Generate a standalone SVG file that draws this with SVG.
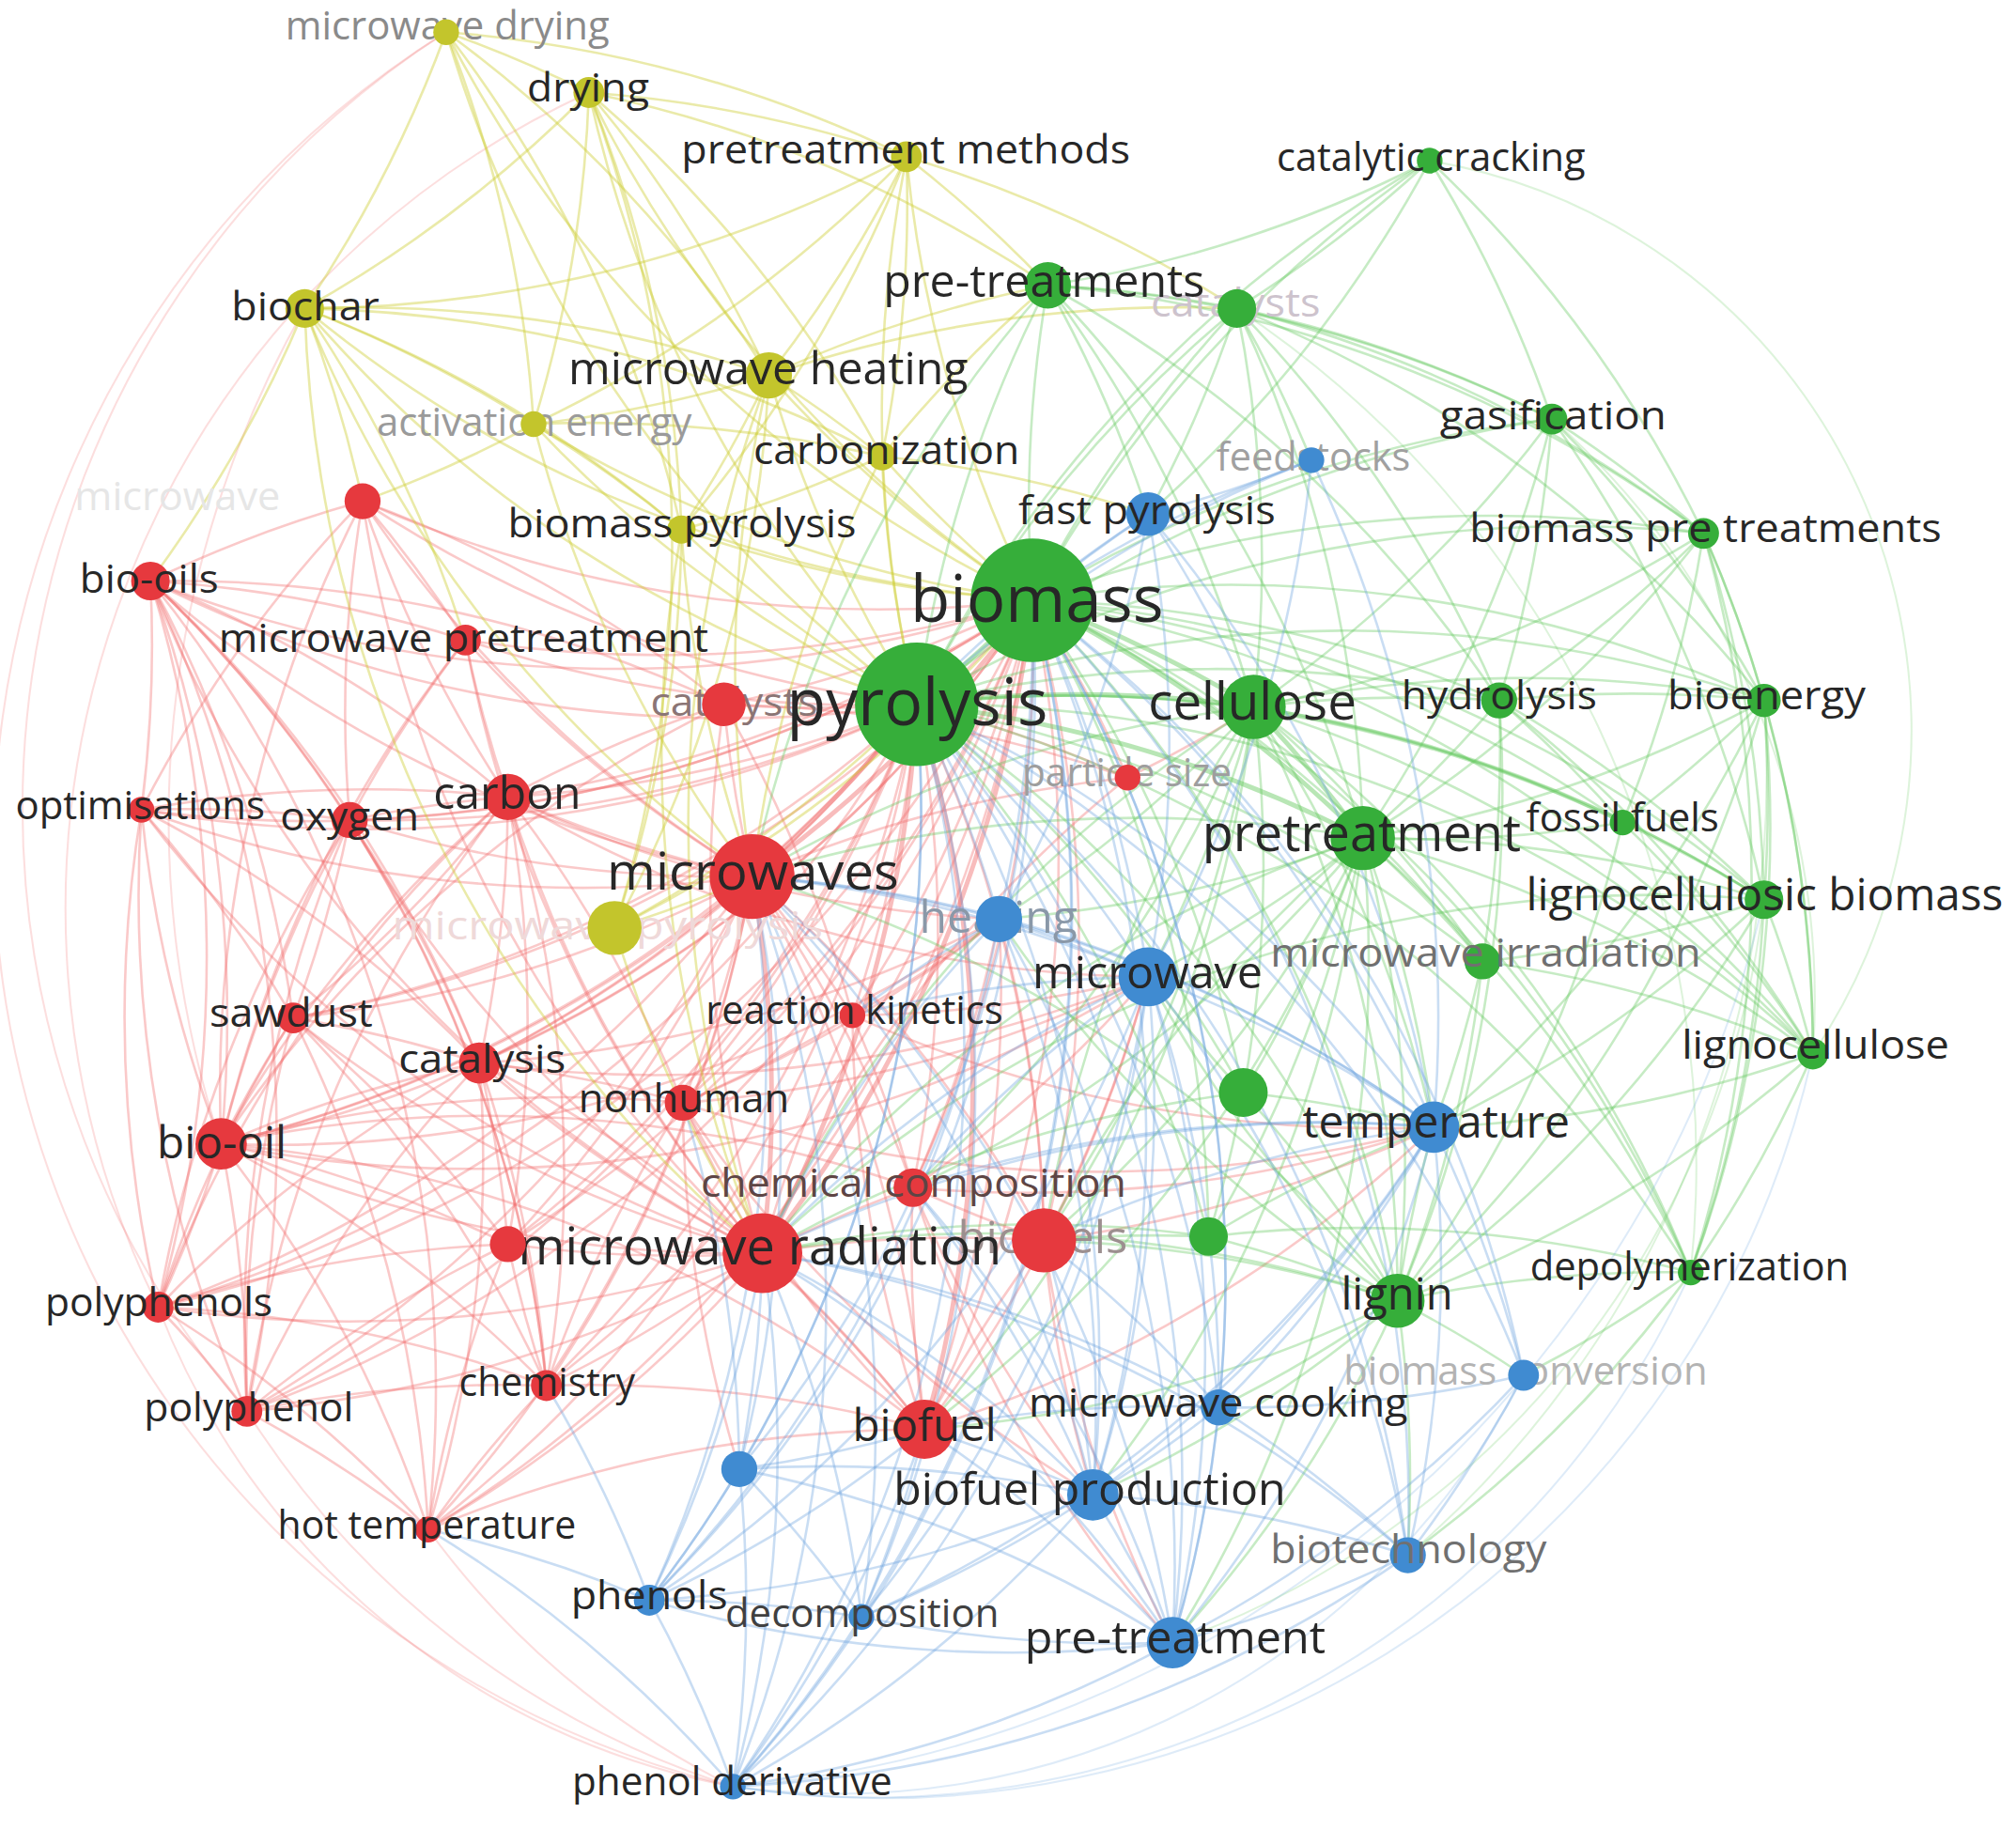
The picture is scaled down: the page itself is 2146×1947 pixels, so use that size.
<svg xmlns="http://www.w3.org/2000/svg" width="2146" height="1947" viewBox="0 0 2146 1947">
<style>
.e path{fill:none;stroke-width:1.9;stroke-linecap:round}
.r path{stroke:#f06a6a;stroke-opacity:.36}
.g path{stroke:#62c75b;stroke-opacity:.36}
.b path{stroke:#68a2de;stroke-opacity:.36}
.y path{stroke:#cccd33;stroke-opacity:.42}
.o path{stroke-opacity:.22;stroke-width:1.5}
.t path{stroke-width:3.6;stroke-opacity:.45}
text{font-family:"Open Sans","Liberation Sans",sans-serif;fill:#272727}
.s{font-size:31px}.m{font-size:35px}.l{font-size:40px}.h{font-size:51px}
.cr{fill:#e6393e}.cg{fill:#36ae3a}.cb{fill:#408bd1}.cy{fill:#c3c52c}
</style>
<rect width="2146" height="1947" fill="#ffffff"/>
<g transform="scale(1.36862 1.36824)">
<g id="connectors">
<g class="e r">
<path d="M803 467A1e3 1e3 0 0 1 282 390"/><path d="M803 467A1e3 1e3 0 0 1 117 452"/><path d="M803 467A1e3 1e3 0 0 1 362 498"/><path d="M803 467A1e3 1e3 0 0 1 563 548"/><path d="M803 467A1e3 1e3 0 0 1 110 630"/><path d="M803 467A1e3 1e3 0 0 1 272 638"/><path d="M803 467A1e3 1e3 0 0 1 395 620"/><path d="M803 467A1e3 1e3 0 0 1 877 605"/><path d="M803 467A1e3 1e3 0 0 1 663 790"/><path d="M803 467A1e3 1e3 0 0 1 228 792"/><path d="M803 467A1e3 1e3 0 0 1 373 827"/><path d="M803 467A1e3 1e3 0 0 1 531 858"/><path d="M803 467A1e3 1e3 0 0 1 172 890"/><path d="M803 467A1e3 1e3 0 0 1 710 924"/><path d="M803 467A1e3 1e3 0 0 1 395 968"/><path d="M803 467A1e3 1e3 0 0 1 812 965"/><path d="M803 467A1e3 1e3 0 0 1 123 1017"/><path d="M803 467A1e3 1e3 0 0 1 425 1078"/><path d="M803 467A1e3 1e3 0 0 1 192 1098"/><path d="M803 467A1e3 1e3 0 0 1 719 1112"/><path d="M803 467A1e3 1e3 0 0 1 333 1190"/>
<path d="M713 548A1e3 1e3 0 0 1 282 390"/><path d="M713 548A1e3 1e3 0 0 1 117 452"/><path d="M713 548A1e3 1e3 0 0 1 362 498"/><path d="M713 548A1e3 1e3 0 0 1 563 548"/><path d="M713 548A1e3 1e3 0 0 1 110 630"/><path d="M713 548A1e3 1e3 0 0 1 272 638"/><path d="M713 548A1e3 1e3 0 0 1 395 620"/><path d="M713 548A1e3 1e3 0 0 1 877 605"/><path d="M713 548A1e3 1e3 0 0 1 663 790"/><path d="M713 548A1e3 1e3 0 0 1 228 792"/><path d="M713 548A1e3 1e3 0 0 1 373 827"/><path d="M713 548A1e3 1e3 0 0 1 531 858"/><path d="M713 548A1e3 1e3 0 0 1 172 890"/><path d="M713 548A1e3 1e3 0 0 1 710 924"/><path d="M713 548A1e3 1e3 0 0 1 395 968"/><path d="M713 548A1e3 1e3 0 0 1 812 965"/><path d="M713 548A1e3 1e3 0 0 1 123 1017"/><path d="M713 548A1e3 1e3 0 0 1 425 1078"/><path d="M713 548A1e3 1e3 0 0 1 192 1098"/><path d="M713 548A1e3 1e3 0 0 1 333 1190"/>
<path d="M585 682A1e3 1e3 0 0 1 282 390"/><path d="M585 682A1e3 1e3 0 0 1 117 452"/><path d="M585 682A1e3 1e3 0 0 1 362 498"/><path d="M585 682A1e3 1e3 0 0 1 563 548"/><path d="M585 682A1e3 1e3 0 0 1 110 630"/><path d="M585 682A1e3 1e3 0 0 1 272 638"/><path d="M585 682A1e3 1e3 0 0 1 395 620"/><path d="M585 682A1e3 1e3 0 0 1 877 605"/><path d="M585 682A1e3 1e3 0 0 1 663 790"/><path d="M585 682A1e3 1e3 0 0 1 228 792"/><path d="M585 682A1e3 1e3 0 0 1 373 827"/><path d="M585 682A1e3 1e3 0 0 1 531 858"/><path d="M585 682A1e3 1e3 0 0 1 172 890"/><path d="M585 682A1e3 1e3 0 0 1 710 924"/><path d="M585 682A1e3 1e3 0 0 1 395 968"/><path d="M585 682A1e3 1e3 0 0 1 812 965"/><path d="M585 682A1e3 1e3 0 0 1 123 1017"/><path d="M585 682A1e3 1e3 0 0 1 425 1078"/><path d="M585 682A1e3 1e3 0 0 1 192 1098"/><path d="M585 682A1e3 1e3 0 0 1 719 1112"/><path d="M585 682A1e3 1e3 0 0 1 333 1190"/>
<path d="M593 975A1e3 1e3 0 0 1 282 390"/><path d="M593 975A1e3 1e3 0 0 1 117 452"/><path d="M593 975A1e3 1e3 0 0 1 362 498"/><path d="M593 975A1e3 1e3 0 0 1 563 548"/><path d="M593 975A1e3 1e3 0 0 1 110 630"/><path d="M593 975A1e3 1e3 0 0 1 272 638"/><path d="M593 975A1e3 1e3 0 0 1 395 620"/><path d="M593 975A1e3 1e3 0 0 1 877 605"/><path d="M593 975A1e3 1e3 0 0 1 663 790"/><path d="M593 975A1e3 1e3 0 0 1 228 792"/><path d="M593 975A1e3 1e3 0 0 1 373 827"/><path d="M593 975A1e3 1e3 0 0 1 531 858"/><path d="M593 975A1e3 1e3 0 0 1 172 890"/><path d="M593 975A1e3 1e3 0 0 1 710 924"/><path d="M593 975A1e3 1e3 0 0 1 395 968"/><path d="M593 975A1e3 1e3 0 0 1 812 965"/><path d="M593 975A1e3 1e3 0 0 1 123 1017"/><path d="M593 975A1e3 1e3 0 0 1 425 1078"/><path d="M593 975A1e3 1e3 0 0 1 192 1098"/><path d="M593 975A1e3 1e3 0 0 1 719 1112"/><path d="M593 975A1e3 1e3 0 0 1 333 1190"/>
<path d="M117 452A1e3 1e3 0 0 1 282 390"/><path d="M117 452A1e3 1e3 0 0 1 362 498"/><path d="M117 452A1e3 1e3 0 0 1 110 630"/><path d="M117 452A1e3 1e3 0 0 1 272 638"/><path d="M117 452A1e3 1e3 0 0 1 395 620"/><path d="M117 452A1e3 1e3 0 0 1 228 792"/><path d="M117 452A1e3 1e3 0 0 1 373 827"/><path d="M117 452A1e3 1e3 0 0 1 172 890"/><path d="M117 452A1e3 1e3 0 0 1 123 1017"/><path d="M117 452A1e3 1e3 0 0 1 192 1098"/><path d="M117 452A1e3 1e3 0 0 1 333 1190"/><path d="M117 452A1e3 1e3 0 0 1 425 1078"/><path d="M117 452A1e3 1e3 0 0 1 563 548"/>
<path d="M172 890A1e3 1e3 0 0 1 282 390"/><path d="M172 890A1e3 1e3 0 0 1 362 498"/><path d="M172 890A1e3 1e3 0 0 1 110 630"/><path d="M172 890A1e3 1e3 0 0 1 272 638"/><path d="M172 890A1e3 1e3 0 0 1 395 620"/><path d="M172 890A1e3 1e3 0 0 1 228 792"/><path d="M172 890A1e3 1e3 0 0 1 373 827"/><path d="M172 890A1e3 1e3 0 0 1 123 1017"/><path d="M172 890A1e3 1e3 0 0 1 192 1098"/><path d="M172 890A1e3 1e3 0 0 1 333 1190"/><path d="M172 890A1e3 1e3 0 0 1 425 1078"/><path d="M172 890A1e3 1e3 0 0 1 395 968"/><path d="M172 890A1e3 1e3 0 0 1 531 858"/><path d="M172 890A1e3 1e3 0 0 1 563 548"/><path d="M172 890A1e3 1e3 0 0 1 719 1112"/><path d="M172 890A1e3 1e3 0 0 1 710 924"/>
<path d="M123 1017A1e3 1e3 0 0 1 110 630"/><path d="M123 1017A1e3 1e3 0 0 1 272 638"/><path d="M123 1017A1e3 1e3 0 0 1 228 792"/><path d="M123 1017A1e3 1e3 0 0 1 192 1098"/><path d="M123 1017A1e3 1e3 0 0 1 333 1190"/><path d="M123 1017A1e3 1e3 0 0 1 425 1078"/><path d="M123 1017A1e3 1e3 0 0 1 373 827"/><path d="M123 1017A1e3 1e3 0 0 1 395 968"/><path d="M123 1017A1e3 1e3 0 0 1 395 620"/>
<path d="M192 1098A1e3 1e3 0 0 1 110 630"/><path d="M192 1098A1e3 1e3 0 0 1 272 638"/><path d="M192 1098A1e3 1e3 0 0 1 228 792"/><path d="M192 1098A1e3 1e3 0 0 1 333 1190"/><path d="M192 1098A1e3 1e3 0 0 1 425 1078"/><path d="M192 1098A1e3 1e3 0 0 1 373 827"/><path d="M192 1098A1e3 1e3 0 0 1 395 968"/><path d="M192 1098A1e3 1e3 0 0 1 395 620"/>
<path d="M110 630A1e3 1e3 0 0 1 272 638"/><path d="M110 630A1e3 1e3 0 0 1 228 792"/><path d="M110 630A1e3 1e3 0 0 1 373 827"/><path d="M110 630A1e3 1e3 0 0 1 282 390"/><path d="M110 630A1e3 1e3 0 0 1 395 620"/>
<path d="M272 638A1e3 1e3 0 0 1 395 620"/><path d="M272 638A1e3 1e3 0 0 1 282 390"/><path d="M272 638A1e3 1e3 0 0 1 362 498"/><path d="M272 638A1e3 1e3 0 0 1 228 792"/><path d="M272 638A1e3 1e3 0 0 1 373 827"/><path d="M272 638A1e3 1e3 0 0 1 425 1078"/>
<path d="M395 620A1e3 1e3 0 0 1 282 390"/><path d="M395 620A1e3 1e3 0 0 1 362 498"/><path d="M395 620A1e3 1e3 0 0 1 373 827"/><path d="M395 620A1e3 1e3 0 0 1 531 858"/><path d="M395 620A1e3 1e3 0 0 1 228 792"/><path d="M395 620A1e3 1e3 0 0 1 425 1078"/><path d="M395 620A1e3 1e3 0 0 1 395 968"/><path d="M395 620A1e3 1e3 0 0 1 563 548"/>
<path d="M228 792A1e3 1e3 0 0 1 373 827"/><path d="M228 792A1e3 1e3 0 0 1 425 1078"/><path d="M228 792A1e3 1e3 0 0 1 333 1190"/><path d="M228 792A1e3 1e3 0 0 1 395 968"/>
<path d="M373 827A1e3 1e3 0 0 1 425 1078"/><path d="M373 827A1e3 1e3 0 0 1 395 968"/><path d="M373 827A1e3 1e3 0 0 1 531 858"/><path d="M373 827A1e3 1e3 0 0 1 333 1190"/><path d="M373 827A1e3 1e3 0 0 1 719 1112"/>
<path d="M333 1190A1e3 1e3 0 0 1 425 1078"/><path d="M333 1190A1e3 1e3 0 0 1 395 968"/><path d="M333 1190A1e3 1e3 0 0 1 719 1112"/>
<path d="M425 1078A1e3 1e3 0 0 1 395 968"/><path d="M425 1078A1e3 1e3 0 0 1 719 1112"/><path d="M425 1078A1e3 1e3 0 0 1 531 858"/>
<path d="M719 1112A1e3 1e3 0 0 1 710 924"/><path d="M719 1112A1e3 1e3 0 0 1 812 965"/><path d="M719 1112A1e3 1e3 0 0 1 531 858"/><path d="M719 1112A1e3 1e3 0 0 1 663 790"/>
<path d="M812 965A1e3 1e3 0 0 1 710 924"/><path d="M282 390A1e3 1e3 0 0 1 362 498"/><path d="M282 390A1e3 1e3 0 0 1 563 548"/><path d="M563 548A1e3 1e3 0 0 1 877 605"/><path d="M563 548A1e3 1e3 0 0 1 663 790"/><path d="M663 790A1e3 1e3 0 0 1 710 924"/><path d="M663 790A1e3 1e3 0 0 1 531 858"/>
<path d="M777 715A1e3 1e3 0 0 1 663 790"/><path d="M777 715A1e3 1e3 0 0 1 531 858"/><path d="M777 715A1e3 1e3 0 0 1 710 924"/><path d="M777 715A1e3 1e3 0 0 1 812 965"/><path d="M777 715A1e3 1e3 0 0 1 719 1112"/><path d="M777 715A1e3 1e3 0 0 1 395 620"/><path d="M777 715A1e3 1e3 0 0 1 373 827"/><path d="M777 715A1e3 1e3 0 0 1 172 890"/>
<path d="M893 760A1e3 1e3 0 0 1 663 790"/><path d="M893 760A1e3 1e3 0 0 1 531 858"/><path d="M893 760A1e3 1e3 0 0 1 710 924"/><path d="M893 760A1e3 1e3 0 0 1 812 965"/><path d="M893 760A1e3 1e3 0 0 1 719 1112"/><path d="M893 760A1e3 1e3 0 0 1 373 827"/><path d="M893 760A1e3 1e3 0 0 1 172 890"/><path d="M893 760A1e3 1e3 0 0 1 395 620"/>
<path d="M1115 877A1e3 1e3 0 0 1 812 965"/><path d="M1115 877A1e3 1e3 0 0 1 719 1112"/><path d="M1115 877A1e3 1e3 0 0 1 710 924"/><path d="M1115 877A1e3 1e3 0 0 1 531 858"/><path d="M1115 877A1e3 1e3 0 0 1 663 790"/>
<path d="M850 1163A1e3 1e3 0 0 1 812 965"/><path d="M850 1163A1e3 1e3 0 0 1 710 924"/><path d="M850 1163A1e3 1e3 0 0 1 531 858"/><path d="M912 1278A1e3 1e3 0 0 1 812 965"/><path d="M912 1278A1e3 1e3 0 0 1 710 924"/><path d="M575 1143A1e3 1e3 0 0 1 531 858"/><path d="M975 550A1e3 1e3 0 0 1 877 605"/>
</g>
<g class="e r o">
<path d="M570 1390A750 750 0 0 1 347 25"/><path d="M192 1098A718 718 0 0 1 347 25"/><path d="M123 1017A700 700 0 0 1 458 72"/><path d="M172 890A800 800 0 0 1 237 240"/><path d="M570 1390A600 600 0 0 1 123 1017"/><path d="M570 1390A700 700 0 0 1 192 1098"/><path d="M570 1390A650 650 0 0 1 333 1190"/>
</g>
<g class="e r t">
<path d="M803 467A1e3 1e3 0 0 1 585 682"/><path d="M803 467A1e3 1e3 0 0 1 593 975"/><path d="M713 548A1e3 1e3 0 0 1 585 682"/><path d="M713 548A1e3 1e3 0 0 1 593 975"/><path d="M585 682A1e3 1e3 0 0 1 593 975"/><path d="M713 548A1e3 1e3 0 0 1 719 1112"/>
</g>
<g class="e y">
<path d="M803 467A1e3 1e3 0 0 1 347 25"/><path d="M803 467A1e3 1e3 0 0 1 458 72"/><path d="M803 467A1e3 1e3 0 0 1 705 122"/><path d="M803 467A1e3 1e3 0 0 1 237 240"/><path d="M803 467A1e3 1e3 0 0 1 598 292"/><path d="M803 467A1e3 1e3 0 0 1 415 330"/><path d="M803 467A1e3 1e3 0 0 1 686 355"/><path d="M803 467A1e3 1e3 0 0 1 530 412"/><path d="M803 467A1e3 1e3 0 0 1 478 722"/>
<path d="M713 548A1e3 1e3 0 0 1 347 25"/><path d="M713 548A1e3 1e3 0 0 1 458 72"/><path d="M713 548A1e3 1e3 0 0 1 705 122"/><path d="M713 548A1e3 1e3 0 0 1 237 240"/><path d="M713 548A1e3 1e3 0 0 1 598 292"/><path d="M713 548A1e3 1e3 0 0 1 415 330"/><path d="M713 548A1e3 1e3 0 0 1 686 355"/><path d="M713 548A1e3 1e3 0 0 1 530 412"/><path d="M713 548A1e3 1e3 0 0 1 478 722"/>
<path d="M585 682A1e3 1e3 0 0 1 598 292"/><path d="M585 682A1e3 1e3 0 0 1 530 412"/><path d="M585 682A1e3 1e3 0 0 1 478 722"/><path d="M585 682A1e3 1e3 0 0 1 237 240"/><path d="M585 682A1e3 1e3 0 0 1 686 355"/><path d="M585 682A1e3 1e3 0 0 1 415 330"/>
<path d="M593 975A1e3 1e3 0 0 1 478 722"/><path d="M593 975A1e3 1e3 0 0 1 530 412"/><path d="M593 975A1e3 1e3 0 0 1 598 292"/><path d="M593 975A1e3 1e3 0 0 1 237 240"/>
<path d="M347 25A1e3 1e3 0 0 1 458 72"/><path d="M347 25A1e3 1e3 0 0 1 705 122"/><path d="M347 25A1e3 1e3 0 0 1 237 240"/><path d="M347 25A1e3 1e3 0 0 1 598 292"/><path d="M347 25A1e3 1e3 0 0 1 530 412"/><path d="M347 25A1e3 1e3 0 0 1 415 330"/>
<path d="M458 72A1e3 1e3 0 0 1 705 122"/><path d="M458 72A1e3 1e3 0 0 1 237 240"/><path d="M458 72A1e3 1e3 0 0 1 598 292"/><path d="M458 72A1e3 1e3 0 0 1 415 330"/><path d="M458 72A1e3 1e3 0 0 1 686 355"/><path d="M458 72A1e3 1e3 0 0 1 530 412"/><path d="M458 72A1e3 1e3 0 0 1 815 222"/><path d="M458 72A1e3 1e3 0 0 1 478 722"/>
<path d="M705 122A1e3 1e3 0 0 1 598 292"/><path d="M705 122A1e3 1e3 0 0 1 686 355"/><path d="M705 122A1e3 1e3 0 0 1 815 222"/><path d="M705 122A1e3 1e3 0 0 1 962 240"/><path d="M705 122A1e3 1e3 0 0 1 530 412"/><path d="M705 122A1e3 1e3 0 0 1 237 240"/><path d="M705 122A1e3 1e3 0 0 1 415 330"/>
<path d="M237 240A1e3 1e3 0 0 1 598 292"/><path d="M237 240A1e3 1e3 0 0 1 415 330"/><path d="M237 240A1e3 1e3 0 0 1 530 412"/><path d="M237 240A1e3 1e3 0 0 1 686 355"/><path d="M237 240A1e3 1e3 0 0 1 362 498"/><path d="M237 240A1e3 1e3 0 0 1 117 452"/><path d="M237 240A1e3 1e3 0 0 1 282 390"/>
<path d="M598 292A1e3 1e3 0 0 1 415 330"/><path d="M598 292A1e3 1e3 0 0 1 686 355"/><path d="M598 292A1e3 1e3 0 0 1 530 412"/><path d="M598 292A1e3 1e3 0 0 1 478 722"/><path d="M598 292A1e3 1e3 0 0 1 815 222"/><path d="M598 292A1e3 1e3 0 0 1 962 240"/>
<path d="M415 330A1e3 1e3 0 0 1 686 355"/><path d="M415 330A1e3 1e3 0 0 1 530 412"/><path d="M415 330A1e3 1e3 0 0 1 282 390"/><path d="M686 355A1e3 1e3 0 0 1 530 412"/><path d="M686 355A1e3 1e3 0 0 1 815 222"/><path d="M686 355A1e3 1e3 0 0 1 893 400"/><path d="M530 412A1e3 1e3 0 0 1 478 722"/>
</g>
<g class="e g">
<path d="M803 467A1e3 1e3 0 0 1 1112 125"/><path d="M803 467A1e3 1e3 0 0 1 815 222"/><path d="M803 467A1e3 1e3 0 0 1 962 240"/><path d="M803 467A1e3 1e3 0 0 1 1207 326"/><path d="M803 467A1e3 1e3 0 0 1 1325 415"/><path d="M803 467A1e3 1e3 0 0 1 1166 545"/><path d="M803 467A1e3 1e3 0 0 1 1372 545"/><path d="M803 467A1e3 1e3 0 0 1 1262 640"/><path d="M803 467A1e3 1e3 0 0 1 1372 700"/><path d="M803 467A1e3 1e3 0 0 1 1153 748"/><path d="M803 467A1e3 1e3 0 0 1 1410 820"/><path d="M803 467A1e3 1e3 0 0 1 967 850"/><path d="M803 467A1e3 1e3 0 0 1 940 962"/><path d="M803 467A1e3 1e3 0 0 1 1087 1012"/><path d="M803 467A1e3 1e3 0 0 1 1315 990"/>
<path d="M713 548A1e3 1e3 0 0 1 1112 125"/><path d="M713 548A1e3 1e3 0 0 1 815 222"/><path d="M713 548A1e3 1e3 0 0 1 962 240"/><path d="M713 548A1e3 1e3 0 0 1 1207 326"/><path d="M713 548A1e3 1e3 0 0 1 1325 415"/><path d="M713 548A1e3 1e3 0 0 1 1166 545"/><path d="M713 548A1e3 1e3 0 0 1 1372 545"/><path d="M713 548A1e3 1e3 0 0 1 1262 640"/><path d="M713 548A1e3 1e3 0 0 1 1372 700"/><path d="M713 548A1e3 1e3 0 0 1 1153 748"/><path d="M713 548A1e3 1e3 0 0 1 1410 820"/><path d="M713 548A1e3 1e3 0 0 1 967 850"/><path d="M713 548A1e3 1e3 0 0 1 940 962"/><path d="M713 548A1e3 1e3 0 0 1 1087 1012"/><path d="M713 548A1e3 1e3 0 0 1 1315 990"/>
<path d="M585 682A1e3 1e3 0 0 1 975 550"/><path d="M585 682A1e3 1e3 0 0 1 1060 652"/><path d="M585 682A1e3 1e3 0 0 1 1087 1012"/><path d="M585 682A1e3 1e3 0 0 1 815 222"/>
<path d="M593 975A1e3 1e3 0 0 1 975 550"/><path d="M593 975A1e3 1e3 0 0 1 1060 652"/><path d="M593 975A1e3 1e3 0 0 1 1087 1012"/><path d="M593 975A1e3 1e3 0 0 1 940 962"/><path d="M593 975A1e3 1e3 0 0 1 967 850"/><path d="M593 975A1e3 1e3 0 0 1 1372 700"/>
<path d="M1112 125A1e3 1e3 0 0 1 815 222"/><path d="M1112 125A1e3 1e3 0 0 1 962 240"/><path d="M1112 125A1e3 1e3 0 0 1 1207 326"/><path d="M1112 125A1e3 1e3 0 0 1 893 400"/><path d="M1112 125A1e3 1e3 0 0 1 1325 415"/>
<path d="M815 222A1e3 1e3 0 0 1 962 240"/><path d="M815 222A1e3 1e3 0 0 1 1207 326"/><path d="M815 222A1e3 1e3 0 0 1 893 400"/><path d="M815 222A1e3 1e3 0 0 1 975 550"/><path d="M815 222A1e3 1e3 0 0 1 1060 652"/><path d="M815 222A1e3 1e3 0 0 1 1166 545"/><path d="M815 222A1e3 1e3 0 0 1 1325 415"/>
<path d="M962 240A1e3 1e3 0 0 1 1207 326"/><path d="M962 240A1e3 1e3 0 0 1 1020 358"/><path d="M962 240A1e3 1e3 0 0 1 893 400"/><path d="M962 240A1e3 1e3 0 0 1 975 550"/><path d="M962 240A1e3 1e3 0 0 1 1060 652"/><path d="M962 240A1e3 1e3 0 0 1 1166 545"/><path d="M962 240A1e3 1e3 0 0 1 1325 415"/><path d="M962 240A1e3 1e3 0 0 1 1372 545"/>
<path d="M1207 326A1e3 1e3 0 0 1 1325 415"/><path d="M1207 326A1e3 1e3 0 0 1 1166 545"/><path d="M1207 326A1e3 1e3 0 0 1 1372 545"/><path d="M1207 326A1e3 1e3 0 0 1 975 550"/><path d="M1207 326A1e3 1e3 0 0 1 1060 652"/><path d="M1207 326A1e3 1e3 0 0 1 1372 700"/>
<path d="M1325 415A1e3 1e3 0 0 1 1166 545"/><path d="M1325 415A1e3 1e3 0 0 1 1372 545"/><path d="M1325 415A1e3 1e3 0 0 1 1262 640"/><path d="M1325 415A1e3 1e3 0 0 1 1372 700"/><path d="M1325 415A1e3 1e3 0 0 1 1410 820"/><path d="M1325 415A1e3 1e3 0 0 1 1060 652"/><path d="M1325 415A1e3 1e3 0 0 1 975 550"/><path d="M1325 415A1e3 1e3 0 0 1 1315 990"/>
<path d="M975 550A1e3 1e3 0 0 1 1166 545"/><path d="M975 550A1e3 1e3 0 0 1 1372 545"/><path d="M975 550A1e3 1e3 0 0 1 1372 700"/><path d="M975 550A1e3 1e3 0 0 1 1153 748"/><path d="M975 550A1e3 1e3 0 0 1 1410 820"/><path d="M975 550A1e3 1e3 0 0 1 1087 1012"/><path d="M975 550A1e3 1e3 0 0 1 967 850"/><path d="M975 550A1e3 1e3 0 0 1 1262 640"/><path d="M975 550A1e3 1e3 0 0 1 1115 877"/><path d="M975 550A1e3 1e3 0 0 1 1315 990"/>
<path d="M1166 545A1e3 1e3 0 0 1 1372 545"/><path d="M1166 545A1e3 1e3 0 0 1 1262 640"/><path d="M1166 545A1e3 1e3 0 0 1 1060 652"/><path d="M1166 545A1e3 1e3 0 0 1 1372 700"/><path d="M1166 545A1e3 1e3 0 0 1 1153 748"/><path d="M1166 545A1e3 1e3 0 0 1 1410 820"/><path d="M1166 545A1e3 1e3 0 0 1 1087 1012"/>
<path d="M1372 545A1e3 1e3 0 0 1 1262 640"/><path d="M1372 545A1e3 1e3 0 0 1 1372 700"/><path d="M1372 545A1e3 1e3 0 0 1 1410 820"/><path d="M1372 545A1e3 1e3 0 0 1 1060 652"/><path d="M1372 545A1e3 1e3 0 0 1 1087 1012"/><path d="M1372 545A1e3 1e3 0 0 1 1315 990"/><path d="M1372 545A1e3 1e3 0 0 1 1115 877"/>
<path d="M1262 640A1e3 1e3 0 0 1 1372 700"/><path d="M1262 640A1e3 1e3 0 0 1 1060 652"/><path d="M1262 640A1e3 1e3 0 0 1 1410 820"/><path d="M1262 640A1e3 1e3 0 0 1 1087 1012"/>
<path d="M1060 652A1e3 1e3 0 0 1 1372 700"/><path d="M1060 652A1e3 1e3 0 0 1 1153 748"/><path d="M1060 652A1e3 1e3 0 0 1 1410 820"/><path d="M1060 652A1e3 1e3 0 0 1 1087 1012"/><path d="M1060 652A1e3 1e3 0 0 1 967 850"/><path d="M1060 652A1e3 1e3 0 0 1 940 962"/><path d="M1060 652A1e3 1e3 0 0 1 1315 990"/><path d="M1060 652A1e3 1e3 0 0 1 1115 877"/><path d="M1060 652A1e3 1e3 0 0 1 893 760"/><path d="M1060 652A1e3 1e3 0 0 1 777 715"/>
<path d="M1372 700A1e3 1e3 0 0 1 1153 748"/><path d="M1372 700A1e3 1e3 0 0 1 1410 820"/><path d="M1372 700A1e3 1e3 0 0 1 1087 1012"/><path d="M1372 700A1e3 1e3 0 0 1 1315 990"/><path d="M1372 700A1e3 1e3 0 0 1 1115 877"/>
<path d="M1153 748A1e3 1e3 0 0 1 1410 820"/><path d="M1153 748A1e3 1e3 0 0 1 1087 1012"/><path d="M1153 748A1e3 1e3 0 0 1 1115 877"/><path d="M1410 820A1e3 1e3 0 0 1 1087 1012"/><path d="M1410 820A1e3 1e3 0 0 1 1315 990"/><path d="M1410 820A1e3 1e3 0 0 1 1115 877"/>
<path d="M967 850A1e3 1e3 0 0 1 1087 1012"/><path d="M967 850A1e3 1e3 0 0 1 1115 877"/><path d="M967 850A1e3 1e3 0 0 1 893 760"/><path d="M967 850A1e3 1e3 0 0 1 940 962"/><path d="M940 962A1e3 1e3 0 0 1 1087 1012"/><path d="M940 962A1e3 1e3 0 0 1 1115 877"/><path d="M940 962A1e3 1e3 0 0 1 1315 990"/>
<path d="M1087 1012A1e3 1e3 0 0 1 1315 990"/><path d="M1087 1012A1e3 1e3 0 0 1 1115 877"/><path d="M1087 1012A1e3 1e3 0 0 1 1185 1070"/><path d="M1087 1012A1e3 1e3 0 0 1 1095 1210"/><path d="M1087 1012A1e3 1e3 0 0 1 912 1278"/><path d="M1087 1012A1e3 1e3 0 0 1 948 1095"/><path d="M1315 990A1e3 1e3 0 0 1 1185 1070"/><path d="M1315 990A1e3 1e3 0 0 1 1095 1210"/>
<path d="M812 965A1e3 1e3 0 0 1 940 962"/><path d="M812 965A1e3 1e3 0 0 1 1087 1012"/><path d="M812 965A1e3 1e3 0 0 1 1060 652"/><path d="M812 965A1e3 1e3 0 0 1 975 550"/>
<path d="M975 550A1e3 1e3 0 0 1 893 760"/><path d="M975 550A1e3 1e3 0 0 1 777 715"/><path d="M975 550A1e3 1e3 0 0 1 812 965"/><path d="M975 550A1e3 1e3 0 0 1 719 1112"/><path d="M1060 652A1e3 1e3 0 0 1 812 965"/><path d="M1060 652A1e3 1e3 0 0 1 719 1112"/><path d="M1060 652A1e3 1e3 0 0 1 850 1163"/><path d="M1060 652A1e3 1e3 0 0 1 912 1278"/><path d="M1087 1012A1e3 1e3 0 0 1 719 1112"/><path d="M1087 1012A1e3 1e3 0 0 1 850 1163"/><path d="M1087 1012A1e3 1e3 0 0 1 893 760"/><path d="M1087 1012A1e3 1e3 0 0 1 777 715"/><path d="M975 550A1e3 1e3 0 0 1 710 924"/><path d="M1060 652A1e3 1e3 0 0 1 710 924"/>
</g>
<g class="e g o">
<path d="M1112 125A450 450 0 0 1 1410 820"/><path d="M962 240A800 800 0 0 1 1315 990"/><path d="M1372 700A700 700 0 0 1 912 1278"/><path d="M1372 545A800 800 0 0 1 1095 1210"/><path d="M1207 326A600 600 0 0 1 1410 820"/>
</g>
<g class="e g t">
<path d="M803 467A1e3 1e3 0 0 1 713 548"/><path d="M803 467A1e3 1e3 0 0 1 975 550"/><path d="M713 548A1e3 1e3 0 0 1 975 550"/><path d="M803 467A1e3 1e3 0 0 1 1060 652"/><path d="M713 548A1e3 1e3 0 0 1 1060 652"/><path d="M975 550A1e3 1e3 0 0 1 1060 652"/>
</g>
<g class="e b">
<path d="M803 467A1e3 1e3 0 0 1 1020 358"/><path d="M803 467A1e3 1e3 0 0 1 893 400"/><path d="M803 467A1e3 1e3 0 0 1 777 715"/><path d="M803 467A1e3 1e3 0 0 1 893 760"/><path d="M803 467A1e3 1e3 0 0 1 1115 877"/><path d="M803 467A1e3 1e3 0 0 1 1185 1070"/><path d="M803 467A1e3 1e3 0 0 1 948 1095"/><path d="M803 467A1e3 1e3 0 0 1 575 1143"/><path d="M803 467A1e3 1e3 0 0 1 850 1163"/><path d="M803 467A1e3 1e3 0 0 1 1095 1210"/><path d="M803 467A1e3 1e3 0 0 1 912 1278"/><path d="M803 467A1e3 1e3 0 0 1 505 1245"/><path d="M803 467A1e3 1e3 0 0 1 670 1258"/><path d="M803 467A1e3 1e3 0 0 1 570 1390"/>
<path d="M713 548A1e3 1e3 0 0 1 1020 358"/><path d="M713 548A1e3 1e3 0 0 1 893 400"/><path d="M713 548A1e3 1e3 0 0 1 777 715"/><path d="M713 548A1e3 1e3 0 0 1 893 760"/><path d="M713 548A1e3 1e3 0 0 1 1115 877"/><path d="M713 548A1e3 1e3 0 0 1 1185 1070"/><path d="M713 548A1e3 1e3 0 0 1 948 1095"/><path d="M713 548A1e3 1e3 0 0 1 575 1143"/><path d="M713 548A1e3 1e3 0 0 1 850 1163"/><path d="M713 548A1e3 1e3 0 0 1 1095 1210"/><path d="M713 548A1e3 1e3 0 0 1 912 1278"/><path d="M713 548A1e3 1e3 0 0 1 505 1245"/><path d="M713 548A1e3 1e3 0 0 1 670 1258"/><path d="M713 548A1e3 1e3 0 0 1 570 1390"/>
<path d="M585 682A1e3 1e3 0 0 1 777 715"/><path d="M585 682A1e3 1e3 0 0 1 893 760"/><path d="M585 682A1e3 1e3 0 0 1 1115 877"/><path d="M585 682A1e3 1e3 0 0 1 850 1163"/><path d="M585 682A1e3 1e3 0 0 1 912 1278"/><path d="M585 682A1e3 1e3 0 0 1 505 1245"/><path d="M585 682A1e3 1e3 0 0 1 670 1258"/><path d="M585 682A1e3 1e3 0 0 1 570 1390"/><path d="M585 682A1e3 1e3 0 0 1 575 1143"/>
<path d="M593 975A1e3 1e3 0 0 1 893 760"/><path d="M593 975A1e3 1e3 0 0 1 1115 877"/><path d="M593 975A1e3 1e3 0 0 1 777 715"/><path d="M593 975A1e3 1e3 0 0 1 850 1163"/><path d="M593 975A1e3 1e3 0 0 1 912 1278"/><path d="M593 975A1e3 1e3 0 0 1 505 1245"/><path d="M593 975A1e3 1e3 0 0 1 670 1258"/><path d="M593 975A1e3 1e3 0 0 1 570 1390"/><path d="M593 975A1e3 1e3 0 0 1 575 1143"/><path d="M593 975A1e3 1e3 0 0 1 948 1095"/><path d="M593 975A1e3 1e3 0 0 1 1095 1210"/>
<path d="M1020 358A1e3 1e3 0 0 1 893 400"/><path d="M1020 358A1e3 1e3 0 0 1 893 760"/><path d="M1020 358A1e3 1e3 0 0 1 1115 877"/><path d="M893 400A1e3 1e3 0 0 1 777 715"/><path d="M893 400A1e3 1e3 0 0 1 893 760"/><path d="M893 400A1e3 1e3 0 0 1 1115 877"/><path d="M893 400A1e3 1e3 0 0 1 975 550"/>
<path d="M777 715A1e3 1e3 0 0 1 893 760"/><path d="M777 715A1e3 1e3 0 0 1 1115 877"/><path d="M777 715A1e3 1e3 0 0 1 850 1163"/><path d="M777 715A1e3 1e3 0 0 1 912 1278"/><path d="M777 715A1e3 1e3 0 0 1 505 1245"/>
<path d="M893 760A1e3 1e3 0 0 1 1115 877"/><path d="M893 760A1e3 1e3 0 0 1 948 1095"/><path d="M893 760A1e3 1e3 0 0 1 850 1163"/><path d="M893 760A1e3 1e3 0 0 1 912 1278"/><path d="M893 760A1e3 1e3 0 0 1 1095 1210"/><path d="M893 760A1e3 1e3 0 0 1 505 1245"/><path d="M893 760A1e3 1e3 0 0 1 670 1258"/><path d="M893 760A1e3 1e3 0 0 1 570 1390"/>
<path d="M1115 877A1e3 1e3 0 0 1 1185 1070"/><path d="M1115 877A1e3 1e3 0 0 1 948 1095"/><path d="M1115 877A1e3 1e3 0 0 1 850 1163"/><path d="M1115 877A1e3 1e3 0 0 1 1095 1210"/><path d="M1115 877A1e3 1e3 0 0 1 912 1278"/><path d="M1115 877A1e3 1e3 0 0 1 670 1258"/>
<path d="M1185 1070A1e3 1e3 0 0 1 1095 1210"/><path d="M1185 1070A1e3 1e3 0 0 1 912 1278"/><path d="M1185 1070A1e3 1e3 0 0 1 948 1095"/><path d="M948 1095A1e3 1e3 0 0 1 850 1163"/><path d="M948 1095A1e3 1e3 0 0 1 912 1278"/><path d="M948 1095A1e3 1e3 0 0 1 1095 1210"/>
<path d="M575 1143A1e3 1e3 0 0 1 505 1245"/><path d="M575 1143A1e3 1e3 0 0 1 670 1258"/><path d="M575 1143A1e3 1e3 0 0 1 570 1390"/><path d="M575 1143A1e3 1e3 0 0 1 850 1163"/><path d="M575 1143A1e3 1e3 0 0 1 912 1278"/>
<path d="M850 1163A1e3 1e3 0 0 1 912 1278"/><path d="M850 1163A1e3 1e3 0 0 1 1095 1210"/><path d="M850 1163A1e3 1e3 0 0 1 670 1258"/><path d="M850 1163A1e3 1e3 0 0 1 570 1390"/><path d="M850 1163A1e3 1e3 0 0 1 505 1245"/>
<path d="M1095 1210A1e3 1e3 0 0 1 912 1278"/><path d="M1095 1210A1e3 1e3 0 0 1 570 1390"/><path d="M912 1278A1e3 1e3 0 0 1 505 1245"/><path d="M912 1278A1e3 1e3 0 0 1 670 1258"/><path d="M912 1278A1e3 1e3 0 0 1 570 1390"/><path d="M505 1245A1e3 1e3 0 0 1 670 1258"/><path d="M505 1245A1e3 1e3 0 0 1 570 1390"/><path d="M670 1258A1e3 1e3 0 0 1 570 1390"/>
<path d="M719 1112A1e3 1e3 0 0 1 575 1143"/><path d="M719 1112A1e3 1e3 0 0 1 850 1163"/><path d="M719 1112A1e3 1e3 0 0 1 912 1278"/><path d="M719 1112A1e3 1e3 0 0 1 670 1258"/><path d="M719 1112A1e3 1e3 0 0 1 505 1245"/><path d="M719 1112A1e3 1e3 0 0 1 948 1095"/><path d="M719 1112A1e3 1e3 0 0 1 570 1390"/><path d="M333 1190A1e3 1e3 0 0 1 505 1245"/><path d="M333 1190A1e3 1e3 0 0 1 570 1390"/><path d="M425 1078A1e3 1e3 0 0 1 505 1245"/>
<path d="M663 790A1e3 1e3 0 0 1 893 760"/><path d="M663 790A1e3 1e3 0 0 1 777 715"/><path d="M710 924A1e3 1e3 0 0 1 893 760"/><path d="M710 924A1e3 1e3 0 0 1 1115 877"/><path d="M531 858A1e3 1e3 0 0 1 575 1143"/><path d="M812 965A1e3 1e3 0 0 1 850 1163"/><path d="M812 965A1e3 1e3 0 0 1 948 1095"/><path d="M812 965A1e3 1e3 0 0 1 1115 877"/><path d="M710 924A1e3 1e3 0 0 1 850 1163"/><path d="M710 924A1e3 1e3 0 0 1 912 1278"/>
</g>
<g class="e b o">
<path d="M1410 820A743 743 0 0 1 570 1390"/><path d="M1372 700A900 900 0 0 1 570 1390"/><path d="M1315 990A700 700 0 0 1 570 1390"/><path d="M1185 1070A600 600 0 0 1 570 1390"/>
</g>
</g>
<g id="nodes">
<g id="n-microwave-drying"><text class="s" x="222" y="31" style="fill:#8a8a8a" textLength="252" lengthAdjust="spacingAndGlyphs">microwave drying</text><circle class="cy" cx="347" cy="25" r="10"/></g>
<g id="n-catalysts-g"><text class="s" x="895" y="246" style="fill:#cdc3cd" textLength="132" lengthAdjust="spacingAndGlyphs">catalysts</text><circle class="cg" cx="962" cy="240" r="15"/></g>
<g id="n-activation-energy"><text class="s" x="293" y="339" style="fill:#9a9a9a" textLength="245" lengthAdjust="spacingAndGlyphs">activation energy</text><circle class="cy" cx="415" cy="330" r="10"/></g>
<g id="n-feedstocks"><text class="s" x="946" y="366" style="fill:#a0a0a0" textLength="151" lengthAdjust="spacingAndGlyphs">feedstocks</text><circle class="cb" cx="1020" cy="358" r="10"/></g>
<g id="n-catalysts-r"><text class="s" x="506" y="557" style="fill:#8b7575" textLength="130" lengthAdjust="spacingAndGlyphs">catalysts</text><circle class="cr" cx="563" cy="548" r="17"/></g>
<g id="n-particle-size"><text class="s" x="795" y="612" style="fill:#9e9e9e" textLength="163" lengthAdjust="spacingAndGlyphs">particle size</text><circle class="cr" cx="877" cy="605" r="10"/></g>
<g id="n-microwave-pyrolysis"><text class="s" x="305" y="731" style="fill:#efd9d9" textLength="335" lengthAdjust="spacingAndGlyphs">microwave pyrolysis</text><circle class="cy" cx="478" cy="722" r="21"/></g>
<g id="n-heating"><text class="m" x="715" y="726" style="fill:#8a98a8" textLength="123" lengthAdjust="spacingAndGlyphs">heating</text><circle class="cb" cx="777" cy="715" r="18"/></g>
<g id="n-biofuels"><text class="m" x="745" y="975" style="fill:#9c8f8f" textLength="132" lengthAdjust="spacingAndGlyphs">biofuels</text><circle class="cr" cx="812" cy="965" r="25"/></g>
<g id="n-biomass-conversion"><text class="s" x="1045" y="1077" style="fill:#b3b3b3" textLength="283" lengthAdjust="spacingAndGlyphs">biomass conversion</text><circle class="cb" cx="1185" cy="1070" r="12"/></g>
<g id="n-microw"><text class="s" x="58" y="397" style="fill:#e6e6e6" textLength="160" lengthAdjust="spacingAndGlyphs">microwave</text></g>
<g id="n-red-a"><circle class="cr" cx="282" cy="390" r="14"/></g>
<g id="n-biomass"><circle class="cg" cx="803" cy="467" r="48"/><text class="h" x="708" y="484" textLength="197" lengthAdjust="spacingAndGlyphs">biomass</text></g>
<g id="n-pyrolysis"><circle class="cg" cx="713" cy="548" r="48"/><text class="h" x="612" y="564" textLength="203" lengthAdjust="spacingAndGlyphs">pyrolysis</text></g>
<g id="n-microwaves"><circle class="cr" cx="585" cy="682" r="33"/><text class="l" x="472" y="692" textLength="227" lengthAdjust="spacingAndGlyphs">microwaves</text></g>
<g id="n-microwave-radiation"><circle class="cr" cx="593" cy="975" r="31"/><text class="l" x="403" y="984" textLength="376" lengthAdjust="spacingAndGlyphs">microwave radiation</text></g>
<g id="n-cellulose"><circle class="cg" cx="975" cy="550" r="25"/><text class="l" x="893" y="560" textLength="162" lengthAdjust="spacingAndGlyphs">cellulose</text></g>
<g id="n-pretreatment"><circle class="cg" cx="1060" cy="652" r="25"/><text class="l" x="935" y="662" textLength="248" lengthAdjust="spacingAndGlyphs">pretreatment</text></g>
<g id="n-microwave"><circle class="cb" cx="893" cy="760" r="23"/><text class="m" x="803" y="769" textLength="179" lengthAdjust="spacingAndGlyphs">microwave</text></g>
<g id="n-biofuel"><circle class="cr" cx="719" cy="1112" r="23"/><text class="m" x="663" y="1121" textLength="112" lengthAdjust="spacingAndGlyphs">biofuel</text></g>
<g id="n-lignin"><circle class="cg" cx="1087" cy="1012" r="21"/><text class="m" x="1043" y="1019" textLength="87" lengthAdjust="spacingAndGlyphs">lignin</text></g>
<g id="n-temperature"><circle class="cb" cx="1115" cy="877" r="20"/><text class="m" x="1013" y="885" textLength="208" lengthAdjust="spacingAndGlyphs">temperature</text></g>
<g id="n-bio-oil"><circle class="cr" cx="172" cy="890" r="20"/><text class="m" x="122" y="901" textLength="101" lengthAdjust="spacingAndGlyphs">bio-oil</text></g>
<g id="n-biofuel-production"><circle class="cb" cx="850" cy="1163" r="20"/><text class="m" x="695" y="1171" textLength="305" lengthAdjust="spacingAndGlyphs">biofuel production</text></g>
<g id="n-pre-treatment"><circle class="cb" cx="912" cy="1278" r="20"/><text class="m" x="797" y="1286" textLength="234" lengthAdjust="spacingAndGlyphs">pre-treatment</text></g>
<g id="n-green-a"><circle class="cg" cx="967" cy="850" r="19"/></g>
<g id="n-carbon"><circle class="cr" cx="395" cy="620" r="18"/><text class="m" x="337" y="629" textLength="115" lengthAdjust="spacingAndGlyphs">carbon</text></g>
<g id="n-fast-pyrolysis"><circle class="cb" cx="893" cy="400" r="17"/><text class="s" x="792" y="408" textLength="200" lengthAdjust="spacingAndGlyphs">fast pyrolysis</text></g>
<g id="n-pre-treatments"><circle class="cg" cx="815" cy="222" r="18"/><text class="m" x="687" y="231" textLength="250" lengthAdjust="spacingAndGlyphs">pre-treatments</text></g>
<g id="n-microwave-heating"><circle class="cy" cx="598" cy="292" r="18"/><text class="m" x="442" y="299" textLength="311" lengthAdjust="spacingAndGlyphs">microwave heating</text></g>
<g id="n-catalysis"><circle class="cr" cx="373" cy="827" r="16"/><text class="s" x="310" y="835" textLength="130" lengthAdjust="spacingAndGlyphs">catalysis</text></g>
<g id="n-chemical-composition"><circle class="cr" cx="710" cy="924" r="15"/><text class="s" x="545" y="931" style="fill:#5e4545" textLength="331" lengthAdjust="spacingAndGlyphs">chemical composition</text></g>
<g id="n-green-b"><circle class="cg" cx="940" cy="962" r="15"/></g>
<g id="n-biochar"><circle class="cy" cx="237" cy="240" r="15"/><text class="s" x="180" y="249" textLength="115" lengthAdjust="spacingAndGlyphs">biochar</text></g>
<g id="n-bio-oils"><circle class="cr" cx="117" cy="452" r="15"/><text class="s" x="62" y="461" textLength="108" lengthAdjust="spacingAndGlyphs">bio-oils</text></g>
<g id="n-lignocellulosic-biomass"><circle class="cg" cx="1372" cy="700" r="15"/><text class="m" x="1187" y="708" textLength="371" lengthAdjust="spacingAndGlyphs">lignocellulosic biomass</text></g>
<g id="n-oxygen"><circle class="cr" cx="272" cy="638" r="14"/><text class="s" x="218" y="646" textLength="108" lengthAdjust="spacingAndGlyphs">oxygen</text></g>
<g id="n-nonhuman"><circle class="cr" cx="531" cy="858" r="14"/><text class="s" x="450" y="865" textLength="164" lengthAdjust="spacingAndGlyphs">nonhuman</text></g>
<g id="n-blue-a"><circle class="cb" cx="575" cy="1143" r="14"/></g>
<g id="n-red-b"><circle class="cr" cx="395" cy="968" r="14"/></g>
<g id="n-hydrolysis"><circle class="cg" cx="1166" cy="545" r="14"/><text class="s" x="1090" y="552" textLength="152" lengthAdjust="spacingAndGlyphs">hydrolysis</text></g>
<g id="n-microwave-irradiation"><circle class="cg" cx="1153" cy="748" r="14"/><text class="s" x="988" y="752" style="fill:#707070" textLength="335" lengthAdjust="spacingAndGlyphs">microwave irradiation</text></g>
<g id="n-microwave-cooking"><circle class="cb" cx="948" cy="1095" r="14"/><text class="s" x="800" y="1102" textLength="295" lengthAdjust="spacingAndGlyphs">microwave cooking</text></g>
<g id="n-biotechnology"><circle class="cb" cx="1095" cy="1210" r="14"/><text class="s" x="988" y="1216" style="fill:#707070" textLength="215" lengthAdjust="spacingAndGlyphs">biotechnology</text></g>
<g id="n-bioenergy"><circle class="cg" cx="1372" cy="545" r="13"/><text class="s" x="1297" y="552" textLength="154" lengthAdjust="spacingAndGlyphs">bioenergy</text></g>
<g id="n-drying"><circle class="cy" cx="458" cy="72" r="12"/><text class="s" x="410" y="79" textLength="95" lengthAdjust="spacingAndGlyphs">drying</text></g>
<g id="n-pretreatment-methods"><circle class="cy" cx="705" cy="122" r="12"/><text class="s" x="530" y="127" textLength="349" lengthAdjust="spacingAndGlyphs">pretreatment methods</text></g>
<g id="n-gasification"><circle class="cg" cx="1207" cy="326" r="12"/><text class="s" x="1120" y="334" textLength="176" lengthAdjust="spacingAndGlyphs">gasification</text></g>
<g id="n-biomass-pre-treatments"><circle class="cg" cx="1325" cy="415" r="12"/><text class="s" x="1143" y="422" textLength="367" lengthAdjust="spacingAndGlyphs">biomass pre treatments</text></g>
<g id="n-microwave-pretreatment"><circle class="cr" cx="362" cy="498" r="12"/><text class="s" x="170" y="507" textLength="381" lengthAdjust="spacingAndGlyphs">microwave pretreatment</text></g>
<g id="n-sawdust"><circle class="cr" cx="228" cy="792" r="12"/><text class="s" x="163" y="799" textLength="127" lengthAdjust="spacingAndGlyphs">sawdust</text></g>
<g id="n-lignocellulose"><circle class="cg" cx="1410" cy="820" r="12"/><text class="s" x="1308" y="824" textLength="208" lengthAdjust="spacingAndGlyphs">lignocellulose</text></g>
<g id="n-polyphenols"><circle class="cr" cx="123" cy="1017" r="12"/><text class="s" x="35" y="1024" textLength="177" lengthAdjust="spacingAndGlyphs">polyphenols</text></g>
<g id="n-chemistry"><circle class="cr" cx="425" cy="1078" r="12"/><text class="s" x="357" y="1086" textLength="137" lengthAdjust="spacingAndGlyphs">chemistry</text></g>
<g id="n-polyphenol"><circle class="cr" cx="192" cy="1098" r="12"/><text class="s" x="112" y="1106" textLength="163" lengthAdjust="spacingAndGlyphs">polyphenol</text></g>
<g id="n-phenols"><circle class="cb" cx="505" cy="1245" r="12"/><text class="s" x="444" y="1252" textLength="122" lengthAdjust="spacingAndGlyphs">phenols</text></g>
<g id="n-carbonization"><circle class="cy" cx="686" cy="355" r="11"/><text class="s" x="586" y="361" textLength="207" lengthAdjust="spacingAndGlyphs">carbonization</text></g>
<g id="n-biomass-pyrolysis"><circle class="cy" cx="530" cy="412" r="11"/><text class="s" x="395" y="418" textLength="271" lengthAdjust="spacingAndGlyphs">biomass pyrolysis</text></g>
<g id="n-catalytic-cracking"><circle class="cg" cx="1112" cy="125" r="10"/><text class="s" x="993" y="133" textLength="240" lengthAdjust="spacingAndGlyphs">catalytic cracking</text></g>
<g id="n-fossil-fuels"><circle class="cg" cx="1262" cy="640" r="10"/><text class="s" x="1187" y="647" textLength="150" lengthAdjust="spacingAndGlyphs">fossil fuels</text></g>
<g id="n-optimisations"><circle class="cr" cx="110" cy="630" r="10"/><text class="s" x="12" y="637" textLength="194" lengthAdjust="spacingAndGlyphs">optimisations</text></g>
<g id="n-reaction-kinetics"><circle class="cr" cx="663" cy="790" r="10"/><text class="s" x="549" y="797" textLength="231" lengthAdjust="spacingAndGlyphs">reaction kinetics</text></g>
<g id="n-depolymerization"><circle class="cg" cx="1315" cy="990" r="10"/><text class="s" x="1190" y="996" textLength="248" lengthAdjust="spacingAndGlyphs">depolymerization</text></g>
<g id="n-hot-temperature"><circle class="cr" cx="333" cy="1190" r="10"/><text class="s" x="216" y="1197" textLength="232" lengthAdjust="spacingAndGlyphs">hot temperature</text></g>
<g id="n-decomposition"><circle class="cb" cx="670" cy="1258" r="10"/><text class="s" x="564" y="1266" style="fill:#404040" textLength="213" lengthAdjust="spacingAndGlyphs">decomposition</text></g>
<g id="n-phenol-derivative"><circle class="cb" cx="570" cy="1390" r="10"/><text class="s" x="445" y="1397" textLength="249" lengthAdjust="spacingAndGlyphs">phenol derivative</text></g>
</g>
</g>
</svg>
